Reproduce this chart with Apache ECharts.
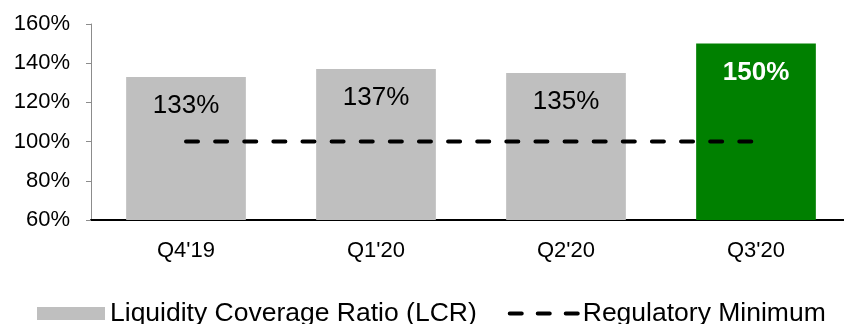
<!DOCTYPE html>
<html>
<head>
<meta charset="utf-8">
<script src="https://cdn.jsdelivr.net/npm/echarts@6/dist/echarts.min.js"></script>
<style>
  html, body { margin: 0; padding: 0; background: #fff; }
  #chart { width: 844px; height: 324px; }
</style>
</head>
<body>
<div id="chart"></div>
<script>
// Quarterly liquidity coverage ratio against the regulatory floor
const quarters = ["Q4'19", "Q1'20", "Q2'20", "Q3'20"];
const lcrValues = [133, 137, 135, 150];
const regulatoryMinimum = [100, 100, 100, 100];
const yTicks = { min: 60, max: 160, step: 20 };

const FONT = '"Liberation Sans", Arial, sans-serif';
const GREY = '#BFBFBF';
const GREEN = '#008000';

const barData = lcrValues.map((v, i) => {
  const latest = i === lcrValues.length - 1;
  return {
    value: v,
    itemStyle: { color: latest ? GREEN : GREY },
    label: latest
      ? { color: '#fff', fontWeight: 'bold' }
      : { color: '#000', fontWeight: 'normal' }
  };
});

const chart = echarts.init(document.getElementById('chart'), null, { renderer: 'canvas' });
chart.setOption({
  animation: false,
  textStyle: { fontFamily: FONT },
  grid: {
    left: 91, top: 24, bottom: 104, width: 760,
    containLabel: false,
    outerBoundsMode: 'none'
  },
  legend: {
    left: 37,
    top: 300,
    padding: 0,
    itemWidth: 68,
    itemHeight: 13,
    itemGap: 31,
    textStyle: { fontFamily: FONT, fontSize: 26.5, color: '#000' },
    data: [
      { name: 'Liquidity Coverage Ratio (LCR)', icon: 'rect', itemStyle: { color: GREY } },
      {
        name: 'Regulatory Minimum',
        itemStyle: { opacity: 0 },
        lineStyle: { color: '#000', width: 4, type: [12, 16], cap: 'round' }
      }
    ]
  },
  xAxis: {
    type: 'category',
    data: quarters,
    axisLine: { lineStyle: { color: '#000', width: 2 } },
    axisTick: { show: false },
    axisLabel: { color: '#000', fontSize: 22, fontFamily: FONT, margin: 20 }
  },
  yAxis: {
    type: 'value',
    min: yTicks.min,
    max: yTicks.max,
    interval: yTicks.step,
    splitLine: { show: false },
    axisLine: { show: true, lineStyle: { color: '#8c8c8c', width: 1 } },
    axisTick: { show: true, length: 5, lineStyle: { color: '#8c8c8c' } },
    axisLabel: {
      color: '#000', fontSize: 22, fontFamily: FONT, margin: 21,
      formatter: v => v + '%'
    }
  },
  series: [
    {
      name: 'Liquidity Coverage Ratio (LCR)',
      type: 'bar',
      data: barData,
      barCategoryGap: '37%',
      itemStyle: { color: GREY },
      label: {
        show: true,
        position: 'insideTop',
        distance: 16,
        fontSize: 26,
        fontFamily: FONT,
        formatter: p => p.value + '%'
      },
      z: 2
    },
    {
      name: 'Regulatory Minimum',
      type: 'line',
      data: regulatoryMinimum,
      symbol: 'none',
      lineStyle: { color: '#000', width: 4, type: [12, 17.12], cap: 'round' },
      itemStyle: { color: '#000' },
      z: 3
    }
  ]
});
</script>
</body>
</html>
